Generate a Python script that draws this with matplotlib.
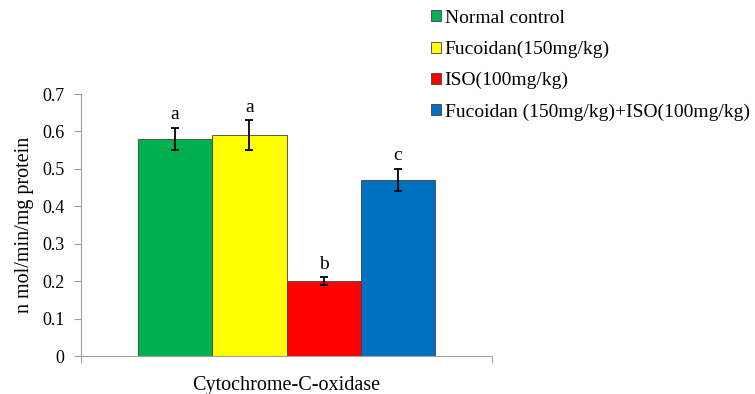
import numpy as np
import matplotlib
matplotlib.use("Agg")
import matplotlib.pyplot as plt
from matplotlib.patches import Patch

plt.rcParams['font.family'] = ['Liberation Serif', 'DejaVu Serif']

# ── data ──────────────────────────────────────
groups = ["Normal control", "Fucoidan(150mg/kg)", "ISO(100mg/kg)",
          "Fucoidan (150mg/kg)+ISO(100mg/kg)"]
values = [0.58, 0.59, 0.20, 0.47]
errors = [0.03, 0.04, 0.01, 0.03]
letters = ["a", "a", "b", "c"]
colors = ["#00b050", "#ffff00", "#ff0000", "#0070c0"]
category = "Cytochrome-C-oxidase"
yticks = [0, 0.1, 0.2, 0.3, 0.4, 0.5, 0.6, 0.7]

fig = plt.figure(figsize=(7.55, 3.94), dpi=100)
ax = fig.add_axes([0.1073, 0.0964, 0.5444, 0.665])

w = 0.181
offs = (np.arange(len(values)) - (len(values) - 1) / 2) * w
for x, v, e, l, c in zip(offs, values, errors, letters, colors):
    ax.bar(x, v, width=w, color=c, edgecolor="#404040", linewidth=0.6)
    ax.errorbar(x, v, yerr=e, fmt="none", ecolor="black", elinewidth=1.3,
                capsize=3, capthick=1.3)
    ax.text(x, v + e + 0.012, l, ha="center", va="bottom", fontsize=14)

ax.set_xlim(-0.5, 0.5)
ax.set_ylim(0, 0.7)
ax.set_yticks(yticks)
ax.set_yticklabels([f"{t:g}" for t in yticks], fontsize=13)
ax.set_xticks([-0.5, 0.5])
ax.set_xticklabels([])
ax.tick_params(axis="y", direction="out", length=5, color="#a0a0a0", width=0.8, pad=7)
ax.tick_params(axis="x", direction="out", length=5, color="#a0a0a0", width=0.8)
for s in ["top", "right"]:
    ax.spines[s].set_visible(False)
for s in ["left", "bottom"]:
    ax.spines[s].set_color("#a0a0a0")
    ax.spines[s].set_linewidth(0.8)
ax.set_xlabel(category, fontsize=14.5, labelpad=6)
ax.set_ylabel("n mol/min/mg protein", fontsize=14.5, labelpad=6)

handles = [Patch(facecolor=c, edgecolor="#404040", linewidth=0.6) for c in colors]
fig.legend(handles, groups, loc="upper left", bbox_to_anchor=(0.571, 0.975),
           frameon=False, fontsize=14, handlelength=0.5, handleheight=0.5,
           handletextpad=0.2, labelspacing=0.72, borderpad=0, borderaxespad=0)

fig.savefig("out.png", dpi=100)
